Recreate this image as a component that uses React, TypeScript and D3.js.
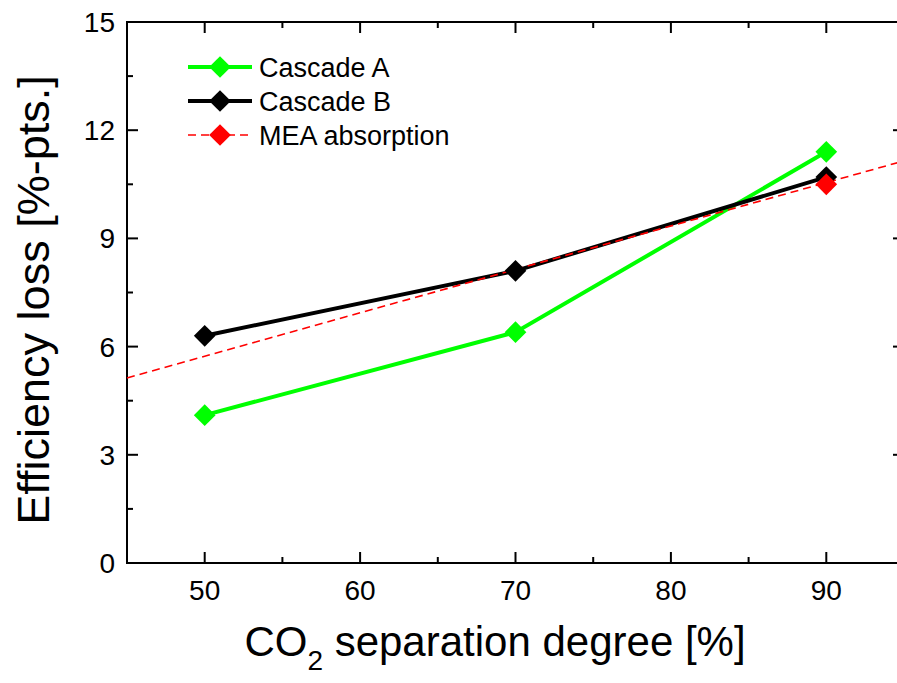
import * as d3 from "d3";
import { useEffect, useRef } from "react";

const sepDegree = [50, 70, 90];
const cascadeA = [4.1, 6.4, 11.4];
const cascadeB = [6.3, 8.1, 10.7];
const meaFitX = [45, 95];
const meaFitY = [5.13, 11.15];
const meaPointX = [90];
const meaPointY = [10.5];
const xMajorTicks = [50, 60, 70, 80, 90];
const xMinorTicks = [55, 65, 75, 85];
const yMajorTicks = [0, 3, 6, 9, 12, 15];
const yMinorTicks = [1.5, 4.5, 7.5, 10.5, 13.5];
const legendNames = ["Cascade A", "Cascade B", "MEA absorption"];
const legendColors = ["#00ff00", "#000000", "#ff0000"];

const width = 897;
const height = 683;
const left = 127;
const right = 904;
const top = 22;
const bottom = 563;
const font = "Arial, 'Liberation Sans', sans-serif";

export default function App() {
  const svgRef = useRef<SVGSVGElement | null>(null);

  useEffect(() => {
    const svg = d3.select(svgRef.current);
    svg.selectAll("*").remove();

    const x = d3.scaleLinear().domain([45, 95]).range([left, right]);
    const y = d3.scaleLinear().domain([0, 15]).range([bottom, top]);

    // frame
    svg
      .append("rect")
      .attr("x", left)
      .attr("y", top)
      .attr("width", right - left)
      .attr("height", bottom - top)
      .attr("fill", "none")
      .attr("stroke", "black")
      .attr("stroke-width", 2);

    const tickG = svg.append("g").attr("stroke", "black").attr("stroke-width", 2);
    const drawXTicks = (vals: number[], len: number) => {
      vals.forEach((v) => {
        tickG.append("line").attr("x1", x(v)).attr("x2", x(v)).attr("y1", bottom).attr("y2", bottom - len);
        tickG.append("line").attr("x1", x(v)).attr("x2", x(v)).attr("y1", top).attr("y2", top + len);
      });
    };
    const drawYTicks = (vals: number[], len: number) => {
      vals.forEach((v) => {
        tickG.append("line").attr("x1", left).attr("x2", left + len).attr("y1", y(v)).attr("y2", y(v));
        tickG.append("line").attr("x1", right).attr("x2", right - len).attr("y1", y(v)).attr("y2", y(v));
      });
    };
    drawXTicks(xMajorTicks, 11);
    drawXTicks(xMinorTicks, 6);
    drawYTicks(yMajorTicks, 11);
    drawYTicks(yMinorTicks, 6);

    svg
      .selectAll(".xLabel")
      .data(xMajorTicks)
      .enter()
      .append("text")
      .attr("x", (d) => x(d))
      .attr("y", 600)
      .attr("text-anchor", "middle")
      .attr("font-family", font)
      .attr("font-size", 28)
      .text((d) => d);

    svg
      .selectAll(".yLabel")
      .data(yMajorTicks)
      .enter()
      .append("text")
      .attr("x", 115)
      .attr("y", (d) => y(d) + 10)
      .attr("text-anchor", "end")
      .attr("font-family", font)
      .attr("font-size", 28)
      .text((d) => d);

    // axis titles
    const xt = svg
      .append("text")
      .attr("x", 495)
      .attr("y", 656)
      .attr("text-anchor", "middle")
      .attr("font-family", font)
      .attr("font-size", 42);
    xt.append("tspan").text("CO");
    xt.append("tspan").attr("font-size", 28).attr("dy", 14).text("2");
    xt.append("tspan").attr("dy", -14).text(" separation degree [%]");

    svg
      .append("text")
      .attr("transform", `translate(49, 300) rotate(-90)`)
      .attr("text-anchor", "middle")
      .attr("font-family", font)
      .attr("font-size", 45)
      .text("Efficiency loss [%-pts.]");

    const line = d3
      .line<[number, number]>()
      .x((d) => x(d[0]))
      .y((d) => y(d[1]));

    const plot = svg.append("g");
    plot
      .append("path")
      .attr("d", line(sepDegree.map((d, i) => [d, cascadeA[i]] as [number, number])))
      .attr("fill", "none")
      .attr("stroke", legendColors[0])
      .attr("stroke-width", 4);
    plot
      .append("path")
      .attr("d", line(sepDegree.map((d, i) => [d, cascadeB[i]] as [number, number])))
      .attr("fill", "none")
      .attr("stroke", legendColors[1])
      .attr("stroke-width", 4);
    plot
      .append("path")
      .attr("d", line(meaFitX.map((d, i) => [d, meaFitY[i]] as [number, number])))
      .attr("fill", "none")
      .attr("stroke", legendColors[2])
      .attr("stroke-width", 1.6)
      .attr("stroke-dasharray", "8,5");

    const diamond = d3.symbol().type(d3.symbolDiamond2).size(300);

    const drawMarkers = (xs: number[], ys: number[], color: string) => {
      plot
        .selectAll(null)
        .data(xs)
        .enter()
        .append("path")
        .attr("d", diamond)
        .attr("transform", (d, i) => `translate(${x(d)},${y(ys[i])})`)
        .attr("fill", color);
    };
    drawMarkers(sepDegree, cascadeA, legendColors[0]);
    drawMarkers(sepDegree, cascadeB, legendColors[1]);
    drawMarkers(meaPointX, meaPointY, legendColors[2]);

    // legend
    const lg = svg.append("g");
    legendNames.forEach((name, i) => {
      const ly = 67 + i * 34;
      lg.append("line")
        .attr("x1", 188)
        .attr("x2", 252)
        .attr("y1", ly)
        .attr("y2", ly)
        .attr("stroke", legendColors[i])
        .attr("stroke-width", i === 2 ? 1.6 : 4)
        .attr("stroke-dasharray", i === 2 ? "8,5" : null);
      lg.append("path")
        .attr("d", diamond)
        .attr("transform", `translate(220,${ly})`)
        .attr("fill", legendColors[i]);
      lg.append("text")
        .attr("x", 259)
        .attr("y", ly + 10)
        .attr("font-family", font)
        .attr("font-size", 27)
        .text(name);
    });
  }, []);

  return (
    <svg
      ref={svgRef}
      width={width}
      height={height}
      style={{ position: "absolute", left: 0, top: 0, background: "white" }}
    ></svg>
  );
}
